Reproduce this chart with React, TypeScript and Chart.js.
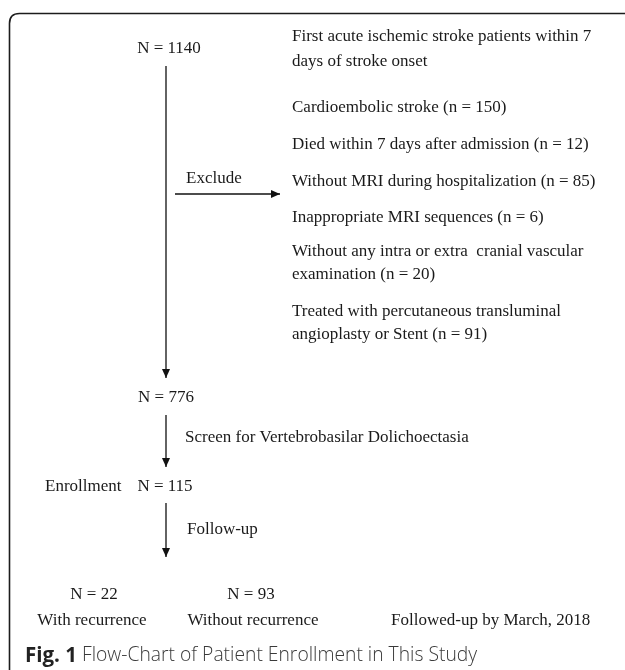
import React, { useEffect, useRef } from "react";
import { Chart, registerables } from "chart.js";

Chart.register(...registerables);

// Flow nodes (counts)
const nodeLabels = ["N = 1140", "N = 776", "N = 115", "N = 22", "N = 93"];
const nodeX = [169, 166, 165, 94, 251];
const nodeY = [47, 396, 485, 593, 593];

// Step labels beside arrows
const stepLabels = ["Exclude", "Screen for Vertebrobasilar Dolichoectasia", "Follow-up", "Enrollment"];
const stepX = [186, 185, 187, 45];
const stepY = [177, 436, 528, 485];

// Exclusion / inclusion text column
const noteLines = [
  "First acute ischemic stroke patients within 7",
  "days of stroke onset",
  "Cardioembolic stroke (n = 150)",
  "Died within 7 days after admission (n = 12)",
  "Without MRI during hospitalization (n = 85)",
  "Inappropriate MRI sequences (n = 6)",
  "Without any intra or extra  cranial vascular",
  "examination (n = 20)",
  "Treated with percutaneous transluminal",
  "angioplasty or Stent (n = 91)",
];
const noteX = 292;
const noteY = [35, 60, 106, 143, 180, 216, 250, 273, 310, 333];

// Outcome labels
const outcomeLabels = ["With recurrence", "Without recurrence"];
const outcomeX = [92, 253];
const outcomeY = [619, 619];
const footNote = "Followed-up by March, 2018";
const footX = 391;
const footY = 619;

// Arrows: start and end
const arrowX1 = [166, 166, 166, 175];
const arrowY1 = [66, 415, 503, 194];
const arrowX2 = [166, 166, 166, 280];
const arrowY2 = [378, 467, 557, 194];

const captionBold = "Fig. 1";
const captionText = " Flow-Chart of Patient Enrollment in This Study";

const SERIF = "'Liberation Serif', 'Times New Roman', serif";
const SANS = "'Open Sans', 'Noto Sans', sans-serif";

const flowPlugin = {
  id: "flow",
  afterDatasetsDraw(chart: any) {
    const ctx = chart.ctx;
    const xs = chart.scales.x;
    const ys = chart.scales.y;
    const px = (v: number) => xs.getPixelForValue(v);
    const py = (v: number) => ys.getPixelForValue(v);
    const dy = 1.5;
    ctx.save();

    // frame
    ctx.strokeStyle = "#1c1c1c";
    ctx.lineWidth = 1.6;
    const fl = px(9.5), ft = py(13.5), r = 10;
    ctx.beginPath();
    ctx.moveTo(fl, py(672));
    ctx.lineTo(fl, ft + r);
    ctx.quadraticCurveTo(fl, ft, fl + r, ft);
    ctx.lineTo(px(626), ft);
    ctx.stroke();

    // arrowheads
    ctx.fillStyle = "#111";
    for (let i = 0; i < arrowX1.length; i++) {
      const x1 = px(arrowX1[i]), y1 = py(arrowY1[i]);
      const x2 = px(arrowX2[i]), y2 = py(arrowY2[i]);
      const ang = Math.atan2(y2 - y1, x2 - x1);
      const L = 9, W = 4;
      ctx.beginPath();
      ctx.moveTo(x2, y2);
      ctx.lineTo(x2 - L * Math.cos(ang) + W * Math.sin(ang), y2 - L * Math.sin(ang) - W * Math.cos(ang));
      ctx.lineTo(x2 - L * Math.cos(ang) - W * Math.sin(ang), y2 - L * Math.sin(ang) + W * Math.cos(ang));
      ctx.closePath();
      ctx.fill();
    }

    ctx.fillStyle = "#1a1a1a";
    ctx.textBaseline = "middle";
    ctx.font = `17px ${SERIF}`;
    ctx.textAlign = "center";
    nodeLabels.forEach((t, i) => ctx.fillText(t, px(nodeX[i]), py(nodeY[i]) + dy));
    outcomeLabels.forEach((t, i) => ctx.fillText(t, px(outcomeX[i]), py(outcomeY[i]) + dy));
    ctx.textAlign = "left";
    stepLabels.forEach((t, i) => ctx.fillText(t, px(stepX[i]), py(stepY[i]) + dy));
    noteLines.forEach((t, i) => ctx.fillText(t, px(noteX), py(noteY[i]) + dy));
    ctx.fillText(footNote, px(footX), py(footY) + dy);

    // caption
    ctx.fillStyle = "#222";
    ctx.font = `bold 20.5px ${SANS}`;
    const cx = px(25), cy = py(655) + 1;
    ctx.fillText(captionBold, cx, cy);
    const w = ctx.measureText(captionBold).width;
    ctx.fillStyle = "#3a3a3a";
    ctx.font = `300 19.3px ${SANS}`;
    ctx.fillText(captionText, cx + w, cy);
    ctx.restore();
  },
};

export default function App() {
  const ref = useRef<HTMLCanvasElement | null>(null);
  useEffect(() => {
    document.body.style.margin = "0";
    const datasets = arrowX1.map((_, i) => ({
      data: [
        { x: arrowX1[i], y: arrowY1[i] },
        { x: arrowX2[i], y: arrowY2[i] },
      ],
      showLine: true,
      borderColor: "#111",
      borderWidth: 1.3,
      pointRadius: 0,
    }));
    const chart = new Chart(ref.current as HTMLCanvasElement, {
      type: "scatter",
      data: { datasets },
      options: {
        animation: false,
        responsive: false,
        maintainAspectRatio: false,
        layout: { padding: 0 },
        plugins: { legend: { display: false }, tooltip: { enabled: false } },
        scales: {
          x: { type: "linear", min: 0, max: 625, display: false },
          y: { type: "linear", min: 0, max: 670, reverse: true, display: false },
        },
      },
      plugins: [flowPlugin],
    });
    return () => chart.destroy();
  }, []);
  return (
    <div style={{ width: 625, height: 670, background: "#fff" }}>
      <canvas ref={ref} width={625} height={670} style={{ display: "block" }} />
    </div>
  );
}
